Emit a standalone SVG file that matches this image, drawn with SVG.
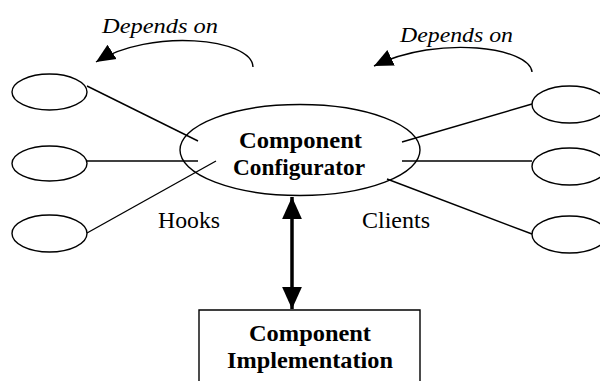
<svg xmlns="http://www.w3.org/2000/svg" width="600" height="381" viewBox="0 0 600 381">
  <style>
    .shape { fill: none; stroke: #000; stroke-width: 1.4; }
    .link { fill: none; stroke: #000; stroke-width: 1.4; }
    .shaft { fill: none; stroke: #000; stroke-width: 3.5; }
    .bold { font-family: "Liberation Serif", "Times New Roman", serif; font-weight: bold; font-size: 24px; fill: #000; text-anchor: middle; }
    .plain { font-family: "Liberation Serif", "Times New Roman", serif; font-size: 24px; fill: #000; }
    .ital { font-family: "Liberation Serif", "Times New Roman", serif; font-style: italic; font-size: 22px; fill: #000; }
  </style>
  <defs>
    <marker id="head" viewBox="0 0 10 10" refX="10" refY="5" markerWidth="22" markerHeight="22" orient="auto-start-reverse" markerUnits="userSpaceOnUse">
      <path d="M0,0.5 L10,5 L0,9.5 Z" fill="#000"/>
    </marker>
    <marker id="curveHead" viewBox="0 0 10 10" refX="10" refY="5" markerWidth="19" markerHeight="19" orient="auto" markerUnits="userSpaceOnUse">
      <path d="M0,0.5 L10,5 L0,9.5 Z" fill="#000"/>
    </marker>
  </defs>
  <rect width="600" height="381" fill="#fff"/>

  <!-- connectors -->
  <g id="connectors">
    <line class="link" x1="87" y1="86" x2="198" y2="141"/>
    <line class="link" x1="87" y1="161" x2="198" y2="161"/>
    <line class="link" x1="87" y1="233" x2="216" y2="161"/>
    <line class="link" x1="402" y1="142" x2="532" y2="104"/>
    <line class="link" x1="402" y1="161" x2="532" y2="161"/>
    <line class="link" x1="387" y1="179" x2="532" y2="234"/>
    <line class="shaft" x1="292" y1="197" x2="292" y2="309" marker-start="url(#head)" marker-end="url(#head)"/>
    <path class="link" d="M253,67 C252,38 150,28 96,62" marker-end="url(#curveHead)"/>
    <path class="link" d="M532,72 C530,48 440,34 374,66" marker-end="url(#curveHead)"/>
  </g>

  <!-- labels -->
  <text class="ital" x="102" y="33" textLength="116" lengthAdjust="spacingAndGlyphs">Depends on</text>
  <text class="ital" x="400" y="42" textLength="113" lengthAdjust="spacingAndGlyphs">Depends on</text>
  <text class="plain" x="158" y="228" textLength="62" lengthAdjust="spacingAndGlyphs">Hooks</text>
  <text class="plain" x="362" y="228" textLength="68" lengthAdjust="spacingAndGlyphs">Clients</text>

  <g id="hook1"><ellipse class="shape" cx="49.5" cy="92" rx="37.5" ry="18"/></g>
  <g id="hook2"><ellipse class="shape" cx="49.5" cy="163.5" rx="37.5" ry="17.5"/></g>
  <g id="hook3"><ellipse class="shape" cx="49.5" cy="233.5" rx="37.5" ry="18.5"/></g>

  <g id="client1"><ellipse class="shape" cx="569.5" cy="104.5" rx="37.5" ry="18.5"/></g>
  <g id="client2"><ellipse class="shape" cx="569.5" cy="166.5" rx="37.5" ry="18.5"/></g>
  <g id="client3"><ellipse class="shape" cx="569.5" cy="234.5" rx="37.5" ry="18.5"/></g>

  <g id="configurator">
    <ellipse class="shape" cx="300" cy="150" rx="120" ry="45.5"/>
    <text class="bold" x="300.5" y="148" textLength="123" lengthAdjust="spacingAndGlyphs">Component</text>
    <text class="bold" x="299" y="175" textLength="132" lengthAdjust="spacingAndGlyphs">Configurator</text>
  </g>

  <g id="implementation">
    <path class="shape" d="M199,385 L199,310 L420,310 L420,385"/>
    <text class="bold" x="310" y="341" textLength="122" lengthAdjust="spacingAndGlyphs">Component</text>
    <text class="bold" x="310" y="368" textLength="166" lengthAdjust="spacingAndGlyphs">Implementation</text>
  </g>
</svg>
